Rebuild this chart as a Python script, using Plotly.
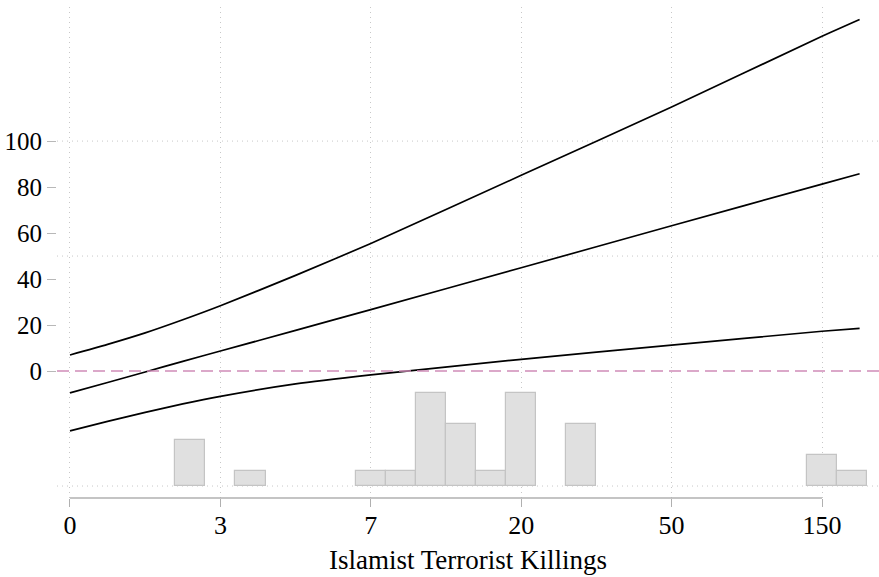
import plotly.graph_objects as go

# x positions in transformed (equal-spaced tick) units
tick_pos = [0, 1, 2, 3, 4, 5]
tick_labels = ["0", "3", "7", "20", "50", "150"]

line_x = [0, 0.25, 0.5, 0.75, 1, 1.5, 2, 3, 4, 5, 5.25]
upper = [7.0, 11.6, 16.6, 22.3, 28.4, 41.6, 55.5, 85.1, 114.8, 145.6, 152.9]
middle = [-9.5, -5.0, -0.4, 4.2, 8.7, 17.7, 26.7, 44.9, 63.2, 81.3, 85.8]
lower = [-26.0, -21.9, -18.0, -14.3, -11.0, -5.6, -1.7, 5.1, 11.3, 17.3, 18.6]

hist_x = [0.8, 1.2, 2.0, 2.2, 2.4, 2.6, 2.8, 3.0, 3.4, 5.0, 5.2]
hist_counts = [3, 1, 1, 1, 6, 4, 1, 6, 4, 2, 1]
hist_base = -50
hist_unit = 6.74

y_ticks = [0, 20, 40, 60, 80, 100]
h_grid = [-50, 50, 100]

FONT = "Liberation Serif, Times New Roman, serif"

fig = go.Figure()

fig.add_trace(go.Bar(
    x=hist_x, y=[c * hist_unit for c in hist_counts], base=hist_base,
    width=0.2, marker=dict(color="#e0e0e0", line=dict(color="#c4c4c4", width=1.2)),
    showlegend=False, hoverinfo="skip"))

for ys in (upper, middle, lower):
    fig.add_trace(go.Scatter(x=line_x, y=ys, mode="lines",
                             line=dict(color="black", width=1.7, shape="spline", smoothing=0.6),
                             showlegend=False))

GRID = dict(color="#c8c8c8", width=1, dash="1px,4px")
shapes = []
for g in h_grid:
    shapes.append(dict(type="line", xref="paper", x0=0, x1=1, yref="y", y0=g, y1=g,
                       line=GRID, layer="below"))
shapes.append(dict(type="line", xref="paper", x0=0, x1=1, yref="y", y0=0, y1=0,
                   line=dict(color="#d08cb8", width=1.6, dash="12px,6px"), layer="above"))
shapes.append(dict(type="line", xref="x", x0=tick_pos[0], x1=tick_pos[-1], yref="paper", y0=0, y1=0,
                   line=dict(color="#b0b0b0", width=1.6), layer="above"))

fig.update_layout(
    width=879, height=577,
    margin=dict(l=57, r=0, t=7, b=79),
    plot_bgcolor="white", paper_bgcolor="white",
    font=dict(family=FONT, size=25, color="black"),
    shapes=shapes,
    bargap=0,
    annotations=[dict(text="Islamist Terrorist Killings", xref="paper", yref="paper",
                      x=0.5, y=-0.126, xanchor="center", yanchor="middle",
                      showarrow=False, font=dict(family=FONT, size=27, color="black"))],
    xaxis=dict(range=[-0.0864, 5.379], tickvals=tick_pos, ticktext=tick_labels,
               showgrid=True, gridcolor="#c8c8c8", griddash="1px,4px", gridwidth=1,
               zeroline=False, showline=False, automargin=False,
               ticks="outside", ticklen=8, tickcolor="#b0b0b0", tickwidth=1.2,
               ticklabelstandoff=-4, tickfont=dict(size=26),
               fixedrange=True),
    yaxis=dict(range=[-55.2, 158.3], tickvals=y_ticks,
               showgrid=False, zeroline=False, showline=False, automargin=False,
               ticks="outside", ticklen=9, tickcolor="#b8b8b8", tickwidth=1.2,
               fixedrange=True),
)

fig.write_html("out.html", config={"displayModeBar": False},
               post_script="document.body.style.margin='0px';document.body.style.overflow='hidden';")
